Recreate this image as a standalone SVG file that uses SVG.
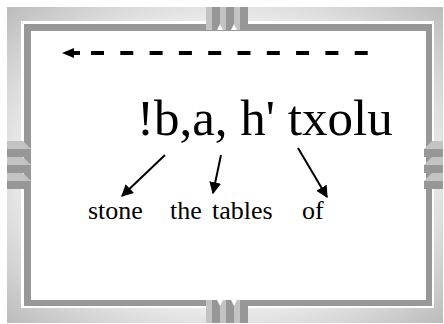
<svg xmlns="http://www.w3.org/2000/svg" width="444" height="324" viewBox="0 0 444 324">
<style>
.lt{fill:#c3c3c3}
.dk{fill:#979797}
.nt{fill:#ffffff}
.big{font-family:"Liberation Serif","Times New Roman",serif;font-size:51px;fill:#000}
.sm{font-family:"Liberation Serif","Times New Roman",serif;font-size:26px;fill:#000}
.conn line{stroke:#000;stroke-width:2}
</style>
<defs>
<radialGradient id="fr" cx="0.5" cy="0.5" r="0.72">
<stop offset="0.55" stop-color="#f6f6f6"/>
<stop offset="1" stop-color="#b9b9b9"/>
</radialGradient>
<marker id="ah" viewBox="0 0 10 10" refX="9" refY="5" markerWidth="6" markerHeight="6" orient="auto" markerUnits="strokeWidth">
<path d="M0,0 L10,5 L0,10 z" fill="#000"/>
</marker>
</defs>
<g id="frame">
<rect x="7" y="7" width="436" height="316" fill="url(#fr)"/>
<rect x="21" y="21" width="413" height="287" fill="#ffffff"/>
<rect x="24" y="24" width="408" height="282" fill="#979797"/>
<rect x="31" y="31" width="395" height="269" fill="#ffffff"/>
</g>
<g id="tab-top">
<rect class="lt" x="206" y="7" width="6" height="23"/>
<rect class="dk" x="212" y="7" width="8" height="23"/>
<rect class="lt" x="220" y="7" width="6" height="23"/>
<rect class="dk" x="226" y="7" width="8" height="23"/>
<rect class="lt" x="234" y="7" width="6" height="23"/>
<rect class="dk" x="240" y="7" width="8" height="23"/>
<polygon class="nt" points="217,30 220,24 223,30"/>
<polygon class="nt" points="231,30 234,24 237,30"/>
</g>
<g id="tab-bottom">
<rect class="lt" x="206" y="300" width="6" height="23"/>
<rect class="dk" x="212" y="300" width="8" height="23"/>
<rect class="lt" x="220" y="300" width="6" height="23"/>
<rect class="dk" x="226" y="300" width="8" height="23"/>
<rect class="lt" x="234" y="300" width="6" height="23"/>
<rect class="dk" x="240" y="300" width="8" height="23"/>
<polygon class="nt" points="217,300 220,306 223,300"/>
<polygon class="nt" points="231,300 234,306 237,300"/>
</g>
<g id="tab-left">
<polygon class="lt" points="7,141 23,141 31,149 7,149"/>
<rect class="dk" x="7" y="149" width="24" height="8"/>
<polygon class="lt" points="7,157 23,157 31,165 7,165"/>
<rect class="dk" x="7" y="165" width="24" height="8"/>
<polygon class="lt" points="7,173 23,173 31,181 7,181"/>
<rect class="dk" x="7" y="181" width="24" height="8"/>
</g>
<g id="tab-right">
<polygon class="lt" points="443,141 432,141 424,149 443,149"/>
<rect class="dk" x="424" y="149" width="19" height="8"/>
<polygon class="lt" points="443,157 432,157 424,165 443,165"/>
<rect class="dk" x="424" y="165" width="19" height="8"/>
<polygon class="lt" points="443,173 432,173 424,181 443,181"/>
<rect class="dk" x="424" y="181" width="19" height="8"/>
</g>
<g id="dashed-arrow">
<polygon points="62,53 74,48 74,58" fill="#000"/>
<rect x="72" y="51" width="8" height="4" fill="#000"/>
<line x1="91" y1="53" x2="372" y2="53" stroke="#000" stroke-width="4" stroke-dasharray="13 16.3"/>
</g>
<g id="word-main">
<text class="big" x="137" y="135">!b,a, h' txolu</text>
</g>
<g id="word-stone"><text class="sm" x="88" y="219">stone</text></g>
<g id="word-the"><text class="sm" x="170" y="219">the</text></g>
<g id="word-tables"><text class="sm" x="212" y="219">tables</text></g>
<g id="word-of"><text class="sm" x="302" y="219">of</text></g>
<g class="conn" id="connectors">
<line x1="165" y1="155" x2="122" y2="196" marker-end="url(#ah)"/>
<line x1="221" y1="155" x2="213" y2="193" marker-end="url(#ah)"/>
<line x1="298" y1="148" x2="327" y2="197" marker-end="url(#ah)"/>
</g>
</svg>
